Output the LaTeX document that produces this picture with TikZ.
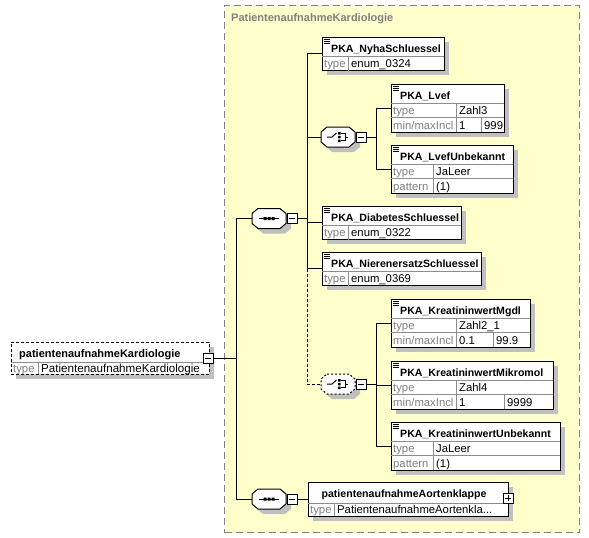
\documentclass[tikz,border=0pt]{standalone}
\usepackage{fontspec}
\setmainfont{Liberation Sans}
\definecolor{bgyellow}{RGB}{255,255,204}
\definecolor{shadowgray}{RGB}{192,192,192}
\definecolor{lblgray}{RGB}{128,128,128}
\tikzset{
  elbox/.style={draw=black, line width=1pt, fill=white, inner sep=0pt, outer sep=0pt, rectangle},
  octoph/.style={rectangle, minimum width=34pt, minimum height=20pt, inner sep=0pt, outer sep=0pt},
  octoline/.style={draw=black, line width=1pt, fill=white},
  pmbox/.style={rectangle, draw=black, line width=1pt, fill=white, minimum size=10pt, inner sep=0pt, outer sep=0pt},
  conn/.style={line width=1pt, black},
  divl/.style={line width=0.8pt, black!45},
  nm/.style={font=\fontsize{10.6}{12}\selectfont\bfseries, inner sep=0pt, anchor=base west},
  val/.style={font=\fontsize{11.3}{12}\selectfont, inner sep=0pt, anchor=base west},
  lbl/.style={val, text=lblgray},
}
% element box: id, x, y, w, h, title
\newcommand\ebox[6]{%
  \fill[shadowgray] (#2+5,#3+5) rectangle ++(#4,#5);
  \node[elbox, minimum width=#4pt, minimum height=#5pt, anchor=north west] (#1) at (#2,#3) {};
  \draw[line width=0.9pt] ([shift={(1.5,2)}]#1.north west) -- ++(6,0)
                          ([shift={(1.5,4)}]#1.north west) -- ++(6,0)
                          ([shift={(1.5,6)}]#1.north west) -- ++(6,0);
  \node[nm] (#1-t) at ([shift={(9,15)}]#1.north west) {#6};
  \draw[divl] ([shift={(0,19)}]#1.north west) -- ([shift={(0,19)}]#1.north east);
}
% row: id, rowtop, label, colx, value, suffix
\newcommand\erow[6]{%
  \node[lbl] (#1-l#6) at ([shift={(2,#2+11.5)}]#1.north west) {#3};
  \node[val] (#1-v#6) at ([shift={(#4+3,#2+11.5)}]#1.north west) {#5};
  \draw[divl] ([shift={(#4,#2)}]#1.north west) -- ++(0,14.5);
}
\newcommand\minmaxrow[6]{% id, rowtop, col1, v1, col2, v2
  \node[lbl] (#1-lm) at ([shift={(2,#2+11.5)}]#1.north west) {min/maxIncl};
  \node[val] (#1-vm) at ([shift={(#3+3,#2+11.5)}]#1.north west) {#4};
  \node[val] (#1-vn) at ([shift={(#5+3,#2+11.5)}]#1.north west) {#6};
  \draw[divl] ([shift={(0,#2)}]#1.north west) -- ([shift={(0,#2)}]#1.north east);
  \draw[divl] ([shift={(#3,#2)}]#1.north west) -- ++(0,14.5);
  \draw[divl] ([shift={(#5,#2)}]#1.north west) -- ++(0,14.5);
}
% octagon: id, cx, cy, extra style
\newcommand\octagon[4]{%
  \fill[shadowgray] (#2-6,#3-5) -- (#2+16,#3-5) -- (#2+22,#3) -- (#2+22,#3+10) -- (#2+16,#3+15)
                    -- (#2-6,#3+15) -- (#2-12,#3+10) -- (#2-12,#3) -- cycle;
  \node[octoph] (#1) at (#2,#3) {};
  \draw[octoline,#4] ([shift={(6,0)}]#1.north west) -- ([shift={(-6,0)}]#1.north east)
     -- ([shift={(0,5)}]#1.north east) -- ([shift={(0,-5)}]#1.south east)
     -- ([shift={(-6,0)}]#1.south east) -- ([shift={(6,0)}]#1.south west)
     -- ([shift={(0,-5)}]#1.south west) -- ([shift={(0,5)}]#1.north west) -- cycle;
}
\newcommand\minusicon[1]{\draw[line width=1pt] ([shift={(-3,0)}]#1.center) -- ([shift={(3,0)}]#1.center);}
\newcommand\seqicon[1]{%
  \draw[line width=1pt] ([shift={(-10,0)}]#1.center) -- ([shift={(10,0)}]#1.center);
  \fill ([shift={(-5.5,-1.5)}]#1.center) rectangle ++(3,3)
        ([shift={(-1.5,-1.5)}]#1.center) rectangle ++(3,3)
        ([shift={(2.5,-1.5)}]#1.center) rectangle ++(3,3);
}
\newcommand\choiceicon[1]{%
  \draw[line width=1pt] ([shift={(-11,0)}]#1.center) -- ([shift={(-6,0)}]#1.center) -- ([shift={(-1.5,-4)}]#1.center);
  \fill ([shift={(0,-5)}]#1.center) rectangle ++(2.5,2.5)
        ([shift={(0,-1.25)}]#1.center) rectangle ++(2.5,2.5)
        ([shift={(0,2.5)}]#1.center) rectangle ++(2.5,2.5);
  \draw[line width=1pt] ([shift={(3,-3.8)}]#1.center) -- ([shift={(7,-3.8)}]#1.center) -- ([shift={(7,3.8)}]#1.center) -- ([shift={(3,3.8)}]#1.center)
        ([shift={(7,0)}]#1.center) -- ([shift={(10,0)}]#1.center);
}
\begin{document}
\begin{tikzpicture}[x=1pt,y=-1pt]
\useasboundingbox (0,0) rectangle (589,538);
\fill[white] (0,0) rectangle (589,538);
% outer complex type frame
\node[rectangle, fill=bgyellow, draw=lblgray, line width=1pt, dash pattern=on 7pt off 4pt,
      minimum width=355pt, minimum height=527pt, anchor=north west, inner sep=0pt] (frame) at (224,5) {};
\node[nm, text=lblgray, font=\fontsize{11}{12}\selectfont\bfseries] (frame-t) at ([shift={(7,16)}]frame.north west) {PatientenaufnahmeKardiologie};

% root element
\fill[shadowgray] (16,347) rectangle ++(198,32);
\node[elbox, dash pattern=on 3pt off 2pt, minimum width=198pt, minimum height=32pt, anchor=north west] (root) at (11,342) {};
\node[nm, font=\fontsize{11}{12}\selectfont\bfseries] (root-t) at ([shift={(8,15)}]root.north west) {patientenaufnahmeKardiologie};
\draw[divl] ([shift={(0,20)}]root.north west) -- ([shift={(0,20)}]root.north east);
\draw[divl] ([shift={(27,20)}]root.north west) -- ([shift={(27,32)}]root.north west);
\node[lbl] (root-l) at ([shift={(2,30)}]root.north west) {type};
\node[val, font=\fontsize{11.6}{12}\selectfont] (root-v) at ([shift={(30,30)}]root.north west) {PatientenaufnahmeKardiologie};
\node[pmbox] (rm) at (208,358) {};
\minusicon{rm}

% sequence 1
\octagon{seq1}{269}{218.5}{}
\seqicon{seq1}
\node[pmbox] (m1) at (292,218.5) {};
\minusicon{m1}

% sequence 2
\octagon{seq2}{269}{499}{}
\seqicon{seq2}
\node[pmbox] (m4) at (292,499) {};
\minusicon{m4}

% choice 1
\octagon{ch1}{338}{137}{}
\choiceicon{ch1}
\node[pmbox] (m2) at (361,137.5) {};
\minusicon{m2}

% choice 2 (optional, dashed)
\octagon{ch2}{338}{384}{dash pattern=on 2pt off 2pt}
\choiceicon{ch2}
\node[pmbox] (m3) at (361,384) {};
\minusicon{m3}

% elements
\ebox{nyha}{322}{37}{122}{33}{PKA\_NyhaSchluessel}
\erow{nyha}{19}{type}{26}{enum\_0324}{a}

\ebox{lvef}{391}{84}{113}{48}{PKA\_Lvef}
\erow{lvef}{19}{type}{65}{Zahl3}{a}
\minmaxrow{lvef}{33.5}{65}{1}{90}{999}

\ebox{lvefu}{391}{145}{122}{48}{PKA\_LvefUnbekannt}
\erow{lvefu}{19}{type}{42}{JaLeer}{a}
\draw[divl] ([shift={(0,33.5)}]lvefu.north west) -- ([shift={(0,33.5)}]lvefu.north east);
\erow{lvefu}{33.5}{pattern}{42}{(1)}{b}

\ebox{diab}{322}{206}{139}{33}{PKA\_DiabetesSchluessel}
\erow{diab}{19}{type}{26}{enum\_0322}{a}

\ebox{nieren}{322}{252}{159}{33}{PKA\_NierenersatzSchluessel}
\erow{nieren}{19}{type}{26}{enum\_0369}{a}

\ebox{mgdl}{391}{299}{139}{48}{PKA\_KreatininwertMgdl}
\erow{mgdl}{19}{type}{65}{Zahl2\_1}{a}
\minmaxrow{mgdl}{33.5}{65}{0.1}{102}{99.9}

\ebox{mikro}{391}{361}{162}{48}{PKA\_KreatininwertMikromol}
\erow{mikro}{19}{type}{65}{Zahl4}{a}
\minmaxrow{mikro}{33.5}{65}{1}{113}{9999}

\ebox{kunb}{391}{422}{169}{48}{PKA\_KreatininwertUnbekannt}
\erow{kunb}{19}{type}{42}{JaLeer}{a}
\draw[divl] ([shift={(0,33.5)}]kunb.north west) -- ([shift={(0,33.5)}]kunb.north east);
\erow{kunb}{33.5}{pattern}{42}{(1)}{b}

% aortenklappe element (complex, collapsed)
\fill[shadowgray] (313,487) rectangle ++(200,34);
\node[elbox, minimum width=200pt, minimum height=34pt, anchor=north west] (aorta) at (308,482) {};
\node[nm, anchor=base] (aorta-t) at ([shift={(96,15)}]aorta.north west) {patientenaufnahmeAortenklappe};
\draw[divl] ([shift={(0,21)}]aorta.north west) -- ([shift={(0,21)}]aorta.north east);
\draw[divl] ([shift={(26,21)}]aorta.north west) -- ([shift={(26,34)}]aorta.north west);
\node[lbl] (aorta-l) at ([shift={(2,31)}]aorta.north west) {type};
\node[val] (aorta-v) at ([shift={(29,31)}]aorta.north west) {PatientenaufnahmeAortenkla...};
\node[pmbox] (pa) at (508,498) {};
\draw[line width=1pt] ([shift={(-3,0)}]pa.center) -- ([shift={(3,0)}]pa.center)
                      ([shift={(0,-3)}]pa.center) -- ([shift={(0,3)}]pa.center);

% connectors
\coordinate (vA) at (236,218.5);
\coordinate (vB) at (236,499);
\draw[conn] (rm.east) -- (rm.east -| vA);
\draw[conn] (seq1.west) -- (vA) -- (vB) -- (seq2.west);
\draw[conn] (m4.east) -- (aorta.west);

\coordinate (sA) at (307,0);
\draw[conn] (m1.east) -- (m1.east -| sA);
\draw[conn] (nyha.west) -- (nyha.west -| sA) -- (nieren.west -| sA) -- (nieren.west);
\draw[conn] (diab.west) -- (diab.west -| sA);
\draw[conn] (ch1.west) -- (ch1.west -| sA);
\draw[conn, dash pattern=on 3pt off 2pt] (nieren.west -| sA) -- (ch2.west -| sA) -- (ch2.west);

\coordinate (cA) at (376,0);
\draw[conn] (m2.east) -- (m2.east -| cA);
\draw[conn] (lvef.west) -- (lvef.west -| cA) -- (lvefu.west -| cA) -- (lvefu.west);
\draw[conn] (m3.east) -- (m3.east -| cA);
\draw[conn] (mgdl.west) -- (mgdl.west -| cA) -- (kunb.west -| cA) -- (kunb.west);
\draw[conn] (mikro.west) -- (mikro.west -| cA);
\end{tikzpicture}
\end{document}
